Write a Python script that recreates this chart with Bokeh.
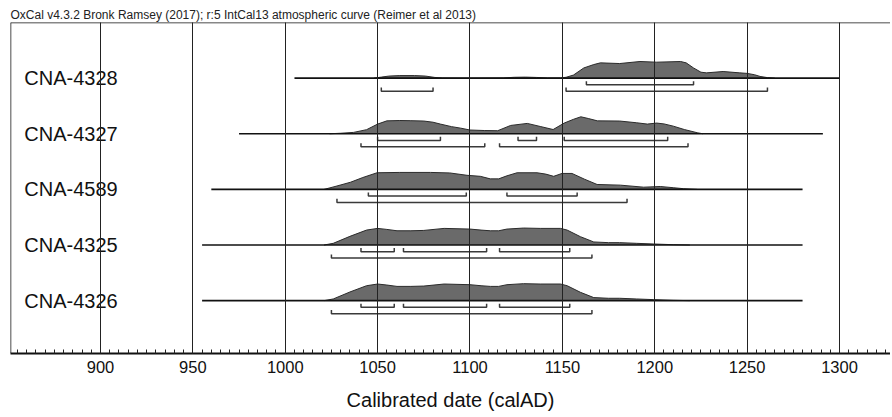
from bokeh.plotting import figure
from bokeh.models import Range1d, Span, SingleIntervalTicker, Title
from bokeh.core.properties import value
from bokeh.embed import file_html
from bokeh.resources import INLINE

# ---------------- data ----------------
title_text = "OxCal v4.3.2 Bronk Ramsey (2017); r:5 IntCal13 atmospheric curve (Reimer et al 2013)"
x_axis_label = "Calibrated date (calAD)"

samples = ["CNA-4328", "CNA-4327", "CNA-4589", "CNA-4325", "CNA-4326"]
row_pos = [5, 4, 3, 2, 1]
line_start = [1005, 975, 960, 955, 955]
line_end = [1300, 1291, 1280, 1280, 1280]

years_4328 = [1048, 1052, 1056, 1062, 1070, 1076, 1081, 1085, 1100, 1118, 1124, 1130, 1136, 1142, 1149,
              1152, 1156, 1161.6, 1167, 1170.6, 1181, 1192, 1201, 1214, 1217, 1221, 1225, 1228, 1237,
              1246, 1250, 1254, 1257, 1261, 1265]
prob_4328 = [0.0, 0.06, 0.12, 0.15, 0.15, 0.12, 0.04, 0.01, 0.0, 0.01, 0.05, 0.06, 0.04, 0.01, 0.01,
             0.05, 0.18, 0.6, 0.8, 0.9, 0.86, 0.98, 0.94, 0.98, 0.9, 0.6, 0.35, 0.31, 0.39,
             0.31, 0.28, 0.2, 0.1, 0.03, 0.0]

years_4327 = [1024, 1030, 1037, 1044, 1050, 1055, 1062, 1068, 1075, 1080, 1084, 1090, 1095, 1100, 1108,
              1115, 1122, 1131, 1138, 1145, 1151, 1156, 1160, 1164, 1169, 1181, 1190, 1196, 1201, 1205,
              1210, 1216, 1223, 1226]
prob_4327 = [0.0, 0.03, 0.08, 0.24, 0.57, 0.76, 0.78, 0.77, 0.75, 0.68, 0.57, 0.42, 0.33, 0.22, 0.19,
             0.18, 0.49, 0.61, 0.43, 0.25, 0.63, 0.85, 1.0, 0.9, 0.76, 0.75, 0.65, 0.57, 0.63, 0.58,
             0.45, 0.25, 0.06, 0.0]

years_4589 = [1021, 1028, 1035.3, 1042, 1049.7, 1062, 1078.6, 1089, 1098.4, 1105.6, 1111, 1115.5, 1120,
              1125.5, 1136.3, 1141, 1145.3, 1149.8, 1155.2, 1162, 1168.8, 1181.4, 1194, 1203, 1210,
              1215.7, 1223]
prob_4589 = [0.0, 0.2, 0.42, 0.7, 0.98, 1.0, 1.0, 0.97, 0.83, 0.77, 0.62, 0.62, 0.8,
             0.98, 0.98, 0.9, 0.77, 0.94, 0.94, 0.6, 0.29, 0.25, 0.13, 0.17, 0.1,
             0.04, 0.0]

years_4325 = [1021, 1026, 1035, 1044, 1050, 1055, 1060.5, 1068, 1075, 1086, 1100, 1106, 1111, 1115.5,
              1120, 1129, 1138, 1149, 1152.6, 1159.8, 1167, 1175, 1181, 1190, 1199.5, 1210, 1219]
prob_4325 = [0.0, 0.1, 0.51, 0.88, 0.98, 0.92, 0.84, 0.84, 0.86, 0.98, 0.94, 0.88, 0.84, 0.84,
             0.94, 1.0, 0.98, 0.98, 0.88, 0.49, 0.18, 0.14, 0.14, 0.1, 0.06, 0.02, 0.0]

years_4326 = [1021, 1026, 1035, 1044, 1050, 1055, 1060.5, 1068, 1075, 1086, 1100, 1106, 1111, 1115.5,
              1120, 1129, 1138, 1149, 1152.6, 1159.8, 1167, 1175, 1181, 1190, 1199.5, 1210, 1219]
prob_4326 = [0.0, 0.1, 0.51, 0.88, 0.98, 0.92, 0.84, 0.84, 0.86, 0.98, 0.94, 0.88, 0.84, 0.84,
             0.94, 1.0, 0.98, 0.98, 0.88, 0.49, 0.18, 0.14, 0.14, 0.1, 0.06, 0.02, 0.0]

# 68.2% and 95.4% ranges (from, to)
r68_4328 = [(1163, 1221)]
r95_4328 = [(1052, 1080), (1152, 1261)]
r68_4327 = [(1050, 1084), (1126, 1136), (1151, 1207)]
r95_4327 = [(1041, 1108), (1116, 1218)]
r68_4589 = [(1045, 1098), (1120, 1158)]
r95_4589 = [(1028, 1185)]
r68_4325 = [(1041, 1059), (1064, 1109), (1116, 1154)]
r95_4325 = [(1025, 1166)]
r68_4326 = [(1041, 1059), (1064, 1109), (1116, 1154)]
r95_4326 = [(1025, 1166)]

# ---------------- styling constants ----------------
X0, X1 = 851.3, 1327.6
Y0, Y1 = 0.05, 6.0
PEAK = 0.305        # height of a full-probability distribution (rows units)
LEVEL68 = 0.12      # offset below baseline of 68.2% brackets
LEVEL95 = 0.235     # offset below baseline of 95.4% brackets
TICK = 0.065        # bracket end tick height
FONT = "Liberation Sans"

p = figure(width=890, height=415, x_range=Range1d(X0, X1), y_range=Range1d(Y0, Y1),
           output_backend="svg", toolbar_location=None, y_axis_type=None,
           min_border_left=10, min_border_right=0, min_border_top=22, min_border_bottom=62)
p.outline_line_color = None
p.background_fill_color = "white"
p.border_fill_color = "white"

p.add_layout(Title(text=title_text, align="left", text_font=FONT, text_font_size="12px",
                   text_font_style="normal", text_color="#222", standoff=1, offset=0), "above")

dists = [(years_4328, prob_4328), (years_4327, prob_4327), (years_4589, prob_4589),
         (years_4325, prob_4325), (years_4326, prob_4326)]
ranges = [(r68_4328, r95_4328), (r68_4327, r95_4327), (r68_4589, r95_4589),
          (r68_4325, r95_4325), (r68_4326, r95_4326)]

for base, (yrs, pr), s, e, (r68, r95) in zip(row_pos, dists, line_start, line_end, ranges):
    top = [base + v * PEAK for v in pr]
    p.varea(x=yrs, y1=[base] * len(yrs), y2=top, fill_color="#6a6a6a")
    p.line(x=yrs, y=top, line_color="#2b2b2b", line_width=1)
    p.line(x=[s, e], y=[base, base], line_color="#111111", line_width=1.6)
    xs, ys = [], []
    for off, rr in ((LEVEL68, r68), (LEVEL95, r95)):
        yl = base - off
        for a, b in rr:
            xs.append([a, a, b, b])
            ys.append([yl + TICK, yl, yl, yl + TICK])
    p.multi_line(xs=xs, ys=ys, line_color="#3a3a3a", line_width=1.5)

p.text(x=[X0 + 7.5] * len(samples), y=row_pos, text=samples, text_font=value(FONT),
       text_font_size=value("20px"), text_baseline="middle", text_align="left", text_color="#111111")

# frame borders (left and top)
p.add_layout(Span(location=X0, dimension="height", line_color="#111111", line_width=1.5))
p.add_layout(Span(location=Y1, dimension="width", line_color="#111111", line_width=1.5))

ticker = SingleIntervalTicker(interval=50, num_minor_ticks=10)
ax = p.xaxis[0]
ax.ticker = ticker
ax.axis_line_width = 2
ax.axis_line_color = "#111111"
ax.major_tick_in = 0
ax.major_tick_out = 0
ax.minor_tick_in = 4
ax.minor_tick_out = 0
ax.minor_tick_line_color = "#222222"
ax.minor_tick_line_width = 1
ax.major_label_text_font = FONT
ax.major_label_text_font_size = "16.5px"
ax.major_label_text_color = "#111111"
ax.major_label_standoff = 7
ax.axis_label = x_axis_label
ax.axis_label_text_font = FONT
ax.axis_label_text_font_size = "20px"
ax.axis_label_text_font_style = "normal"
ax.axis_label_text_color = "#111111"
ax.axis_label_standoff = 13

p.xgrid.ticker = ticker
p.xgrid.grid_line_color = "#222222"
p.xgrid.grid_line_width = 1
p.xgrid.level = "overlay"
p.ygrid.grid_line_color = None

open("out.html", "w").write(file_html(p, INLINE))
